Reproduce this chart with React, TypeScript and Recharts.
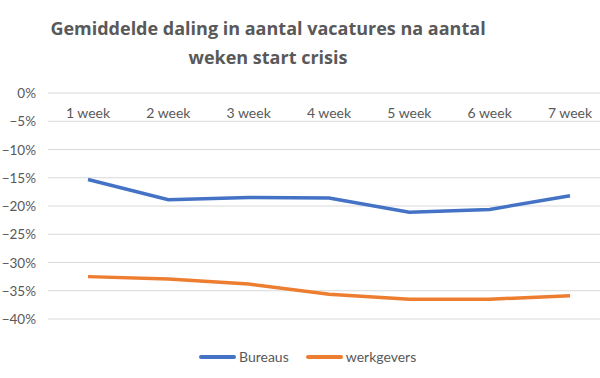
import React from "react";
import { LineChart, Line, XAxis, YAxis, CartesianGrid } from "recharts";

const categories = ["1 week", "2 week", "3 week", "4 week", "5 week", "6 week", "7 week"];
const bureaus = [-15.3, -18.9, -18.5, -18.6, -21.1, -20.6, -18.2];
const werkgevers = [-32.5, -32.9, -33.8, -35.6, -36.5, -36.5, -35.9];
const yTicks = [0, -5, -10, -15, -20, -25, -30, -35, -40];
const seriesNames = ["Bureaus", "werkgevers"];
const title = ["Gemiddelde daling in aantal vacatures na aantal", "weken start crisis"];

const data = categories.map((c, i) => ({ name: c, Bureaus: bureaus[i], werkgevers: werkgevers[i] }));

const BLUE = "#4472C4";
const ORANGE = "#ED7D31";
const TEXT = "#595959";
const FONT = "'Open Sans', 'Noto Sans', sans-serif";
const TICKFONT = "Lato, 'Open Sans', sans-serif";

const XTick = (props: any) => {
  const { x, y, payload } = props;
  return (
    <text x={x} y={y + 33} textAnchor="middle" fill={TEXT} fontSize={14} fontFamily={TICKFONT}>
      {payload.value}
    </text>
  );
};

const YTick = (props: any) => {
  const { y, payload } = props;
  const v = payload.value as number;
  return (
    <text x={36} y={y} dy={5} textAnchor="end" fill={TEXT} fontSize={13.5} fontFamily={TICKFONT}>
      {v === 0 ? "0%" : `\u2212${Math.abs(v)}%`}
    </text>
  );
};

export default function App() {
  return (
    <div style={{ position: "fixed", left: 0, top: 0, width: 600, height: 378, overflow: "hidden", background: "#fff" }}>
      <div style={{ position: "absolute", left: 0, top: 14, width: 536, textAlign: "center", fontFamily: FONT, fontWeight: 700, fontSize: 18, lineHeight: "29px", color: TEXT }}>
        <div>{title[0]}</div>
        <div>{title[1]}</div>
      </div>
      <div style={{ position: "absolute", left: 0, top: 0 }}>
        <LineChart width={620} height={378} data={data} margin={{ top: 92, right: 10, bottom: 59, left: 0 }}>
          <CartesianGrid vertical={false} stroke="#d9d9d9" strokeWidth={1} />
          <XAxis dataKey="name" orientation="top" height={1} axisLine={false} tickLine={false} tick={<XTick />} interval={0}
            padding={{ left: 40, right: 40 }} />
          <YAxis domain={[-40, 0]} ticks={yTicks} width={48} axisLine={false} tickLine={false} tick={<YTick />} />
          <Line dataKey="Bureaus" stroke={BLUE} strokeWidth={3.5} dot={false} isAnimationActive={false} type="linear" />
          <Line dataKey="werkgevers" stroke={ORANGE} strokeWidth={3.5} dot={false} isAnimationActive={false} type="linear" />
        </LineChart>
      </div>
      <div style={{ position: "absolute", top: 348, left: 199, display: "flex", alignItems: "center", fontFamily: TICKFONT, fontSize: 14, color: TEXT }}>
        {seriesNames.map((n, i) => (
          <div key={n} style={{ display: "flex", alignItems: "center", marginRight: 17 }}>
            <div style={{ width: 37, height: 4, borderRadius: 2, background: i === 0 ? BLUE : ORANGE, marginRight: 3 }} />
            <span>{n}</span>
          </div>
        ))}
      </div>
    </div>
  );
}
